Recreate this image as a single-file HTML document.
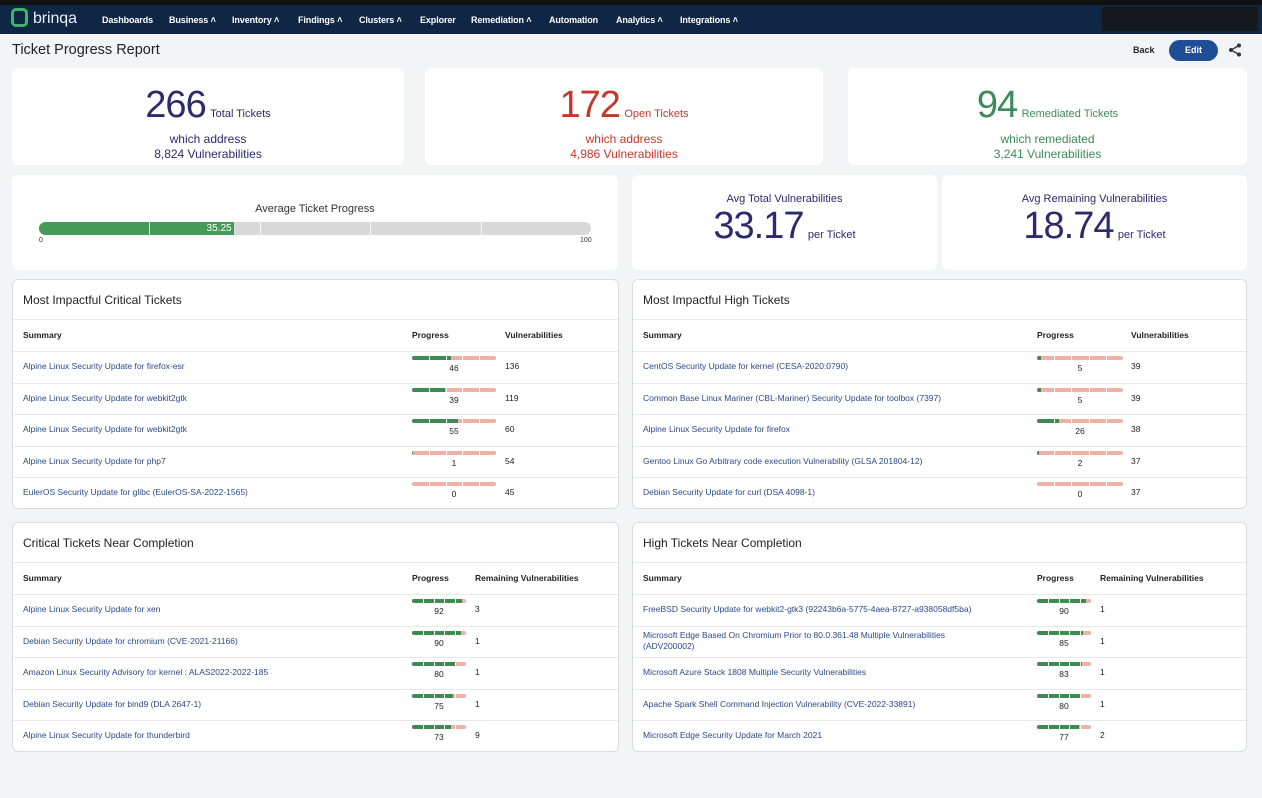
<!DOCTYPE html>
<html><head><meta charset="utf-8">
<style>
*{box-sizing:border-box;margin:0;padding:0}
body{width:1262px;height:798px;background:#f3f4f6;font-family:"Liberation Sans",sans-serif;position:relative;overflow:hidden;color:#222}
.abs{position:absolute}
.nav{left:0;top:0;width:1262px;height:34px;background:#0f2744;border-top:5px solid #111}
.nav span{position:absolute;top:10px;font-size:9px;color:#fff;font-weight:bold;letter-spacing:-0.1px}
.card{position:absolute;background:#fff;border-radius:6px}
.panel{position:absolute;background:#fff;border:1px solid #d8dbe0;border-radius:6px}
.ptitle{position:absolute;left:10px;top:13px;font-size:12px;color:#222}
.hline{position:absolute;left:0;right:0;height:1px;background:#e6e8eb}
.th{position:absolute;font-size:8.5px;font-weight:bold;color:#222}
.link{position:absolute;font-size:8.5px;color:#2a4a86;white-space:nowrap;line-height:11px}
.num{position:absolute;font-size:8.5px;color:#222}
.big{font-size:38px;letter-spacing:-1px}
</style></head><body>
<div class="abs nav">
  <div class="abs" style="left:11px;top:3px;width:17px;height:19px;border:3px solid #3cb56b;border-radius:5px"></div>
  <span style="left:33px;top:5px;font-size:16px;font-weight:normal;color:#e8eef5">brinqa</span>
  <span style="left:102px">Dashboards</span>
  <span style="left:169px">Business ˄</span>
  <span style="left:232px">Inventory ˄</span>
  <span style="left:298px">Findings ˄</span>
  <span style="left:359px">Clusters ˄</span>
  <span style="left:420px">Explorer</span>
  <span style="left:471px">Remediation ˄</span>
  <span style="left:549px">Automation</span>
  <span style="left:616px">Analytics ˄</span>
  <span style="left:680px">Integrations ˄</span>
  <div class="abs" style="left:1102px;top:2px;width:156px;height:24px;background:#15181c"></div>
</div>
<div class="abs" style="left:12px;top:42px;font-size:14.5px;color:#222">Ticket Progress Report</div>
<div class="abs" style="left:1133px;top:45px;font-size:9px;font-weight:bold">Back</div>
<div class="abs" style="left:1169px;top:40px;width:49px;height:21px;background:#1f4e96;border-radius:11px;color:#fff;font-size:9px;font-weight:bold;text-align:center;line-height:21px">Edit</div>
<svg class="abs" style="left:1228px;top:43px" width="14" height="14"><circle cx="11" cy="2.5" r="2" fill="#333"/><circle cx="3" cy="7" r="2" fill="#333"/><circle cx="11" cy="11.5" r="2" fill="#333"/><path d="M11 2.5L3 7L11 11.5" stroke="#333" stroke-width="1.3" fill="none"/></svg>

<div class="card" style="left:12px;top:68px;width:392px;height:97px;text-align:center;color:#2d2a6e">
  <div style="position:absolute;left:0;right:0;top:16px"><span class="big">266</span> <span style="font-size:11px">Total Tickets</span></div>
  <div style="position:absolute;left:0;right:0;top:64px;font-size:12px;line-height:15px">which address<br>8,824 Vulnerabilities</div>
</div>
<div class="card" style="left:425px;top:68px;width:398px;height:97px;text-align:center;color:#c0392b">
  <div style="position:absolute;left:0;right:0;top:16px"><span class="big">172</span> <span style="font-size:11px">Open Tickets</span></div>
  <div style="position:absolute;left:0;right:0;top:64px;font-size:12px;line-height:15px">which address<br>4,986 Vulnerabilities</div>
</div>
<div class="card" style="left:848px;top:68px;width:399px;height:97px;text-align:center;color:#3d8b58">
  <div style="position:absolute;left:0;right:0;top:16px"><span class="big">94</span> <span style="font-size:11px">Remediated Tickets</span></div>
  <div style="position:absolute;left:0;right:0;top:64px;font-size:12px;line-height:15px">which remediated<br>3,241 Vulnerabilities</div>
</div>

<div class="card" style="left:12px;top:175px;width:606px;height:95px">
  <div style="position:absolute;left:0;right:0;top:28px;text-align:center;font-size:11px;color:#333">Average Ticket Progress</div>
  <div id="avgbar" style="position:absolute;left:27px;top:47px;width:552px;height:13px;background:#d8d8d8;border-radius:7px;overflow:hidden"></div>
  <div style="position:absolute;left:27px;top:62px;font-size:7px;color:#333">0</div>
  <div style="position:absolute;left:568px;top:62px;font-size:7px;color:#333">100</div>
</div>
<div class="card" style="left:632px;top:175px;width:305px;height:95px;text-align:center;color:#2d2a6e">
  <div style="position:absolute;left:0;right:0;top:18px;font-size:11px">Avg Total Vulnerabilities</div>
  <div style="position:absolute;left:0;right:0;top:30px"><span style="font-size:38px;letter-spacing:-1px">33.17</span> <span style="font-size:11px">per Ticket</span></div>
</div>
<div class="card" style="left:942px;top:175px;width:305px;height:95px;text-align:center;color:#2d2a6e">
  <div style="position:absolute;left:0;right:0;top:18px;font-size:11px">Avg Remaining Vulnerabilities</div>
  <div style="position:absolute;left:0;right:0;top:30px"><span style="font-size:38px;letter-spacing:-1px">18.74</span> <span style="font-size:11px">per Ticket</span></div>
</div>

<div id="p1" class="panel" style="left:12px;top:279px;width:607px;height:230px"></div>
<div id="p2" class="panel" style="left:632px;top:279px;width:615px;height:230px"></div>
<div id="p3" class="panel" style="left:12px;top:522px;width:607px;height:230px"></div>
<div id="p4" class="panel" style="left:632px;top:522px;width:615px;height:230px"></div>

<script>
const avgProgress = 35.25;

const critSummaries = ["Alpine Linux Security Update for firefox-esr","Alpine Linux Security Update for webkit2gtk","Alpine Linux Security Update for webkit2gtk","Alpine Linux Security Update for php7","EulerOS Security Update for glibc (EulerOS-SA-2022-1565)"];
const critProgress = [46,39,55,1,0];
const critVulns = [136,119,60,54,45];

const highSummaries = ["CentOS Security Update for kernel (CESA-2020:0790)","Common Base Linux Mariner (CBL-Mariner) Security Update for toolbox (7397)","Alpine Linux Security Update for firefox","Gentoo Linux Go Arbitrary code execution Vulnerability (GLSA 201804-12)","Debian Security Update for curl (DSA 4098-1)"];
const highProgress = [5,5,26,2,0];
const highVulns = [39,39,38,37,37];

const critNearSummaries = ["Alpine Linux Security Update for xen","Debian Security Update for chromium (CVE-2021-21166)","Amazon Linux Security Advisory for kernel : ALAS2022-2022-185","Debian Security Update for bind9 (DLA 2647-1)","Alpine Linux Security Update for thunderbird"];
const critNearProgress = [92,90,80,75,73];
const critNearRemaining = [3,1,1,1,9];

const highNearSummaries = ["FreeBSD Security Update for webkit2-gtk3 (92243b6a-5775-4aea-8727-a938058df5ba)","Microsoft Edge Based On Chromium Prior to 80.0.361.48 Multiple Vulnerabilities (ADV200002)","Microsoft Azure Stack 1808 Multiple Security Vulnerabilities","Apache Spark Shell Command Injection Vulnerability (CVE-2022-33891)","Microsoft Edge Security Update for March 2021"];
const highNearProgress = [90,85,83,80,77];
const highNearRemaining = [1,1,1,1,2];

function pct(v, w){ return v/100*w; }

const ab = document.getElementById('avgbar');
const g = document.createElement('div');


g.style.cssText = 'position:absolute;left:0;top:0;height:13px;background:#459a5a;width:'+pct(avgProgress,552)+'px;color:#fff;font-size:10px;text-align:right;padding-right:2px;line-height:13px';
g.textContent = avgProgress.toFixed(2);
ab.appendChild(g);
for (let i=1;i<5;i++){ const s=document.createElement('div'); s.style.cssText='position:absolute;top:0;width:1px;height:13px;background:#fff;opacity:.8;left:'+pct(i*20,552)+'px'; ab.appendChild(s); }

function build(id, title, summaries, prog, vals, col3, barX, barW, col3X){
  const p = document.getElementById(id);
  let h = '<div class="ptitle">'+title+'</div>';
  h += '<div class="hline" style="top:39px"></div>';
  h += '<div class="th" style="left:10px;top:50px">Summary</div>';
  h += '<div class="th" style="left:'+barX+'px;top:50px">Progress</div>';
  h += '<div class="th" style="left:'+col3X+'px;top:50px">'+col3+'</div>';
  p.innerHTML = h;
  summaries.forEach((s,i)=>{
    const y = 71 + i*31.6;
    const line = document.createElement('div'); line.className='hline'; line.style.top=y+'px'; p.appendChild(line);
    const a = document.createElement('div');
    
    
    a.className='link'; a.style.left='10px';
    const twoLine = s.indexOf('ADV200002')>=0;
    a.style.top=(y+(twoLine?4:10))+'px';
    if (twoLine){ a.style.whiteSpace='normal'; a.style.width='350px'; }
    a.textContent=s; p.appendChild(a);
    const bar = document.createElement('div');
    
    
    bar.style.cssText='position:absolute;left:'+(barX)+'px;top:'+(y+5)+'px;width:'+barW+'px;height:4px;border-radius:2px;overflow:hidden;background:#efb1a3';
    const f=document.createElement('div');
    f.style.cssText='position:absolute;left:0;top:0;height:4px;background:#3f8a52;width:'+pct(prog[i],barW)+'px';
    bar.appendChild(f);
    for(let k=1;k<5;k++){const s2=document.createElement('div');s2.style.cssText='position:absolute;top:0;width:1px;height:4px;background:#fff;left:'+pct(k*20,barW)+'px';bar.appendChild(s2);}
    p.appendChild(bar);
    const n=document.createElement('div');
    
    
    n.className='num'; n.style.left=barX+'px'; n.style.width=barW+'px'; n.style.textAlign='center'; n.style.top=(y+12)+'px';
    n.textContent=prog[i]; p.appendChild(n);
    const v=document.createElement('div');
    
    
    v.className='num'; v.style.left=col3X+'px'; v.style.top=(y+10)+'px'; v.textContent=vals[i]; p.appendChild(v);
  });
}
build('p1','Most Impactful Critical Tickets',critSummaries,critProgress,critVulns,'Vulnerabilities',399,84,492);
build('p2','Most Impactful High Tickets',highSummaries,highProgress,highVulns,'Vulnerabilities',404,86,498);
build('p3','Critical Tickets Near Completion',critNearSummaries,critNearProgress,critNearRemaining,'Remaining Vulnerabilities',399,54,462);
build('p4','High Tickets Near Completion',highNearSummaries,highNearProgress,highNearRemaining,'Remaining Vulnerabilities',404,54,467);
</script>
</body></html>
